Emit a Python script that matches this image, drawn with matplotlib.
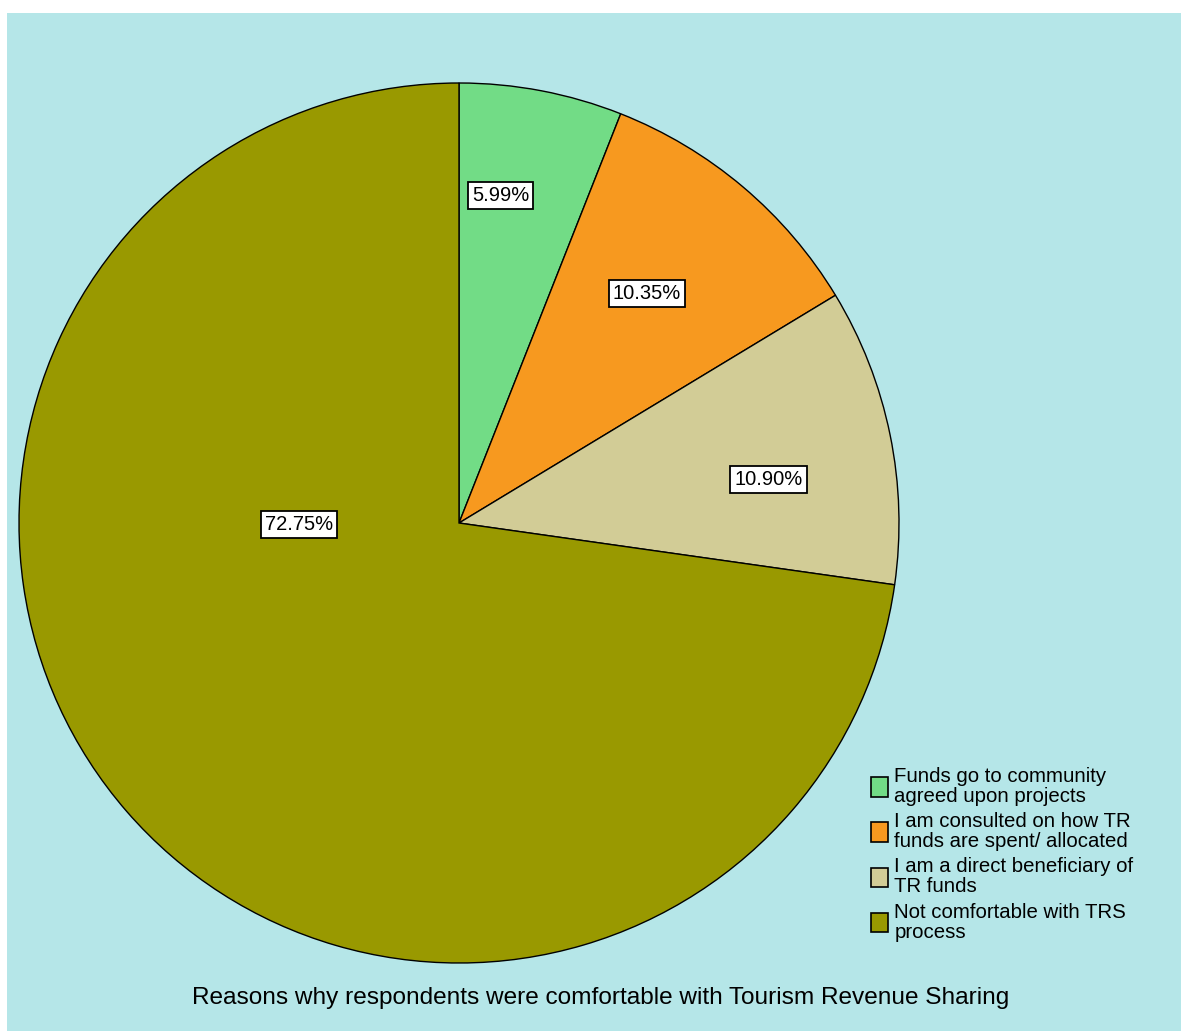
import numpy as np
import matplotlib.pyplot as plt
from matplotlib.patches import Rectangle, Patch

# data
categories = ["Funds go to community\nagreed upon projects",
              "I am consulted on how TR\nfunds are spent/ allocated",
              "I am a direct beneficiary of\nTR funds",
              "Not comfortable with TRS\nprocess"]
shares = [5.99, 10.35, 10.90, 72.75]
pct_labels = ["5.99%", "10.35%", "10.90%", "72.75%"]
title = "Reasons why respondents were comfortable with Tourism Revenue Sharing"

colors = ["#72dc86", "#f7991f", "#d2cc96", "#999900"]
label_r = [0.75, 0.675, 0.71, 0.364]
label_shift = [3.5, 0.9, -3.6, -40.3]  # degrees

plt.rcParams['font.family'] = ['Liberation Sans', 'DejaVu Sans']

W, H = 1181, 1031
fig = plt.figure(figsize=(W / 100, H / 100), dpi=100)
fig.patch.set_facecolor("white")
ax = fig.add_axes([0, 0, 1, 1])

ax.add_patch(Rectangle((7, 0), W - 7, H - 13, facecolor="#b5e6e8", edgecolor="none", zorder=0))

cx, cy, r = 459, H - 523, 440
wedges, _ = ax.pie(shares, colors=colors, startangle=90, counterclock=False,
                   center=(cx, cy), radius=r, frame=True,
                   wedgeprops=dict(edgecolor="black", linewidth=1.0))
ax.set_xlim(0, W)
ax.set_ylim(0, H)
ax.axis("off")
ax.set_aspect("equal")

start = 90.0
for i, v in enumerate(shares):
    mid = start - v * 3.6 / 2 + label_shift[i]
    start -= v * 3.6
    a = np.deg2rad(mid)
    x = cx + label_r[i] * r * np.cos(a)
    y = cy + label_r[i] * r * np.sin(a)
    ax.text(x, y, pct_labels[i], ha="center", va="center", fontsize=14.5, color="black",
            bbox=dict(boxstyle="square,pad=0.2", facecolor="white", edgecolor="black", linewidth=1.3),
            zorder=5)

handles = [Patch(facecolor=c, edgecolor="black", linewidth=1.2) for c in colors]
leg = ax.legend(handles, categories, loc="upper left", bbox_to_anchor=(871 / W, 1 - 767 / H),
                frameon=False, fontsize=14.7, handlelength=0.85, handleheight=1.1,
                handletextpad=0.3, labelspacing=0.3, borderpad=0, borderaxespad=0)
for t in leg.get_texts():
    t.set_linespacing(1.07)

ax.text(601, H - 998, title, ha="center", va="center", fontsize=17.6, color="black")

fig.savefig("out.png", dpi=100)
